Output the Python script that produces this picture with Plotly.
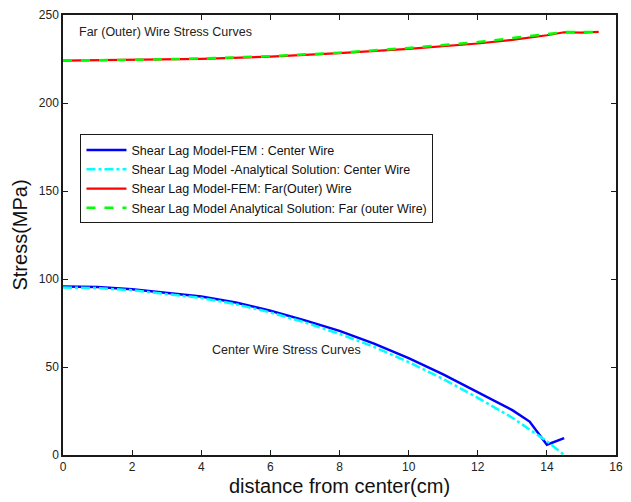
import plotly.graph_objects as go

# Center wire, FEM
x_center_fem = [0, 1, 2, 3, 4, 5, 6, 7, 8, 9, 10, 11, 12, 13, 13.5, 14, 14.5]
y_center_fem = [95.8, 95.4, 94.2, 92.3, 90.0, 86.6, 82.0, 76.5, 70.5, 63.3, 55.0, 45.8, 35.5, 25.5, 19.0, 5.8, 9.6]

# Center wire, analytical
x_center_ana = [0, 1, 2, 3, 4, 5, 6, 7, 8, 9, 10, 11, 12, 13, 14, 14.5]
y_center_ana = [95.2, 94.8, 93.6, 91.6, 89.2, 85.7, 81.0, 75.3, 68.8, 61.4, 52.8, 43.2, 32.5, 21.2, 7.8, 0.0]

# Far (outer) wire, FEM
x_far_fem = [0, 2, 4, 6, 8, 10, 12, 13, 13.5, 14, 14.5, 15, 15.5]
y_far_fem = [224.1, 224.4, 225.1, 226.3, 228.3, 230.8, 233.8, 235.9, 237.0, 238.5, 240.2, 240.0, 240.4]

# Far (outer) wire, analytical
x_far_ana = [0, 2, 4, 6, 8, 10, 12, 13, 14, 14.5, 15, 15.5]
y_far_ana = [224.2, 224.5, 225.3, 226.6, 228.6, 231.3, 234.6, 236.8, 239.0, 240.3, 240.3, 240.4]

x_ticks = [0, 2, 4, 6, 8, 10, 12, 14, 16]
y_ticks = [0, 50, 100, 150, 200, 250]

fig = go.Figure()
fig.add_trace(go.Scatter(x=x_center_fem, y=y_center_fem, mode="lines",
                         line=dict(color="#0000ff", width=2.5),
                         name="Shear Lag Model-FEM : Center Wire"))
fig.add_trace(go.Scatter(x=x_center_ana, y=y_center_ana, mode="lines",
                         line=dict(color="#00ffff", width=2.5, dash="dashdot"),
                         name="Shear Lag Model -Analytical Solution: Center Wire"))
fig.add_trace(go.Scatter(x=x_far_fem, y=y_far_fem, mode="lines",
                         line=dict(color="#ff0000", width=2.2),
                         name="Shear Lag Model-FEM: Far(Outer) Wire"))
fig.add_trace(go.Scatter(x=x_far_ana, y=y_far_ana, mode="lines",
                         line=dict(color="#00ff00", width=2.5, dash="dash"),
                         name="Shear Lag Model Analytical Solution: Far (outer Wire)"))

fig.add_annotation(x=0.4, y=240.4, xref="x", yref="y", text="Far (Outer) Wire Stress Curves",
                   showarrow=False, xanchor="left", yanchor="middle",
                   font=dict(size=12.5, color="#222222"))
fig.add_annotation(x=4.25, y=59.6, xref="x", yref="y", text="Center Wire Stress Curves",
                   showarrow=False, xanchor="left", yanchor="middle",
                   font=dict(size=12.5, color="#222222"))

axis_common = dict(showline=True, linecolor="#1a1a1a", linewidth=1.5, mirror="ticks",
                   ticks="inside", ticklen=5, tickcolor="#1a1a1a", tickwidth=1,
                   showgrid=False, zeroline=False,
                   tickfont=dict(size=12, color="#222222"))

fig.update_layout(
    width=631, height=502,
    margin=dict(l=63, r=8, t=15, b=45),
    paper_bgcolor="white", plot_bgcolor="white",
    font=dict(family="Liberation Sans, Arial, sans-serif", color="#222222"),
    showlegend=True,
    legend=dict(x=0.0316, y=0.7285, xanchor="left", yanchor="top",
                bgcolor="white", bordercolor="#1a1a1a", borderwidth=1,
                itemwidth=40,
                font=dict(size=12.5, color="#111111"), tracegroupgap=0),
    xaxis=dict(range=[0, 16], tickvals=x_ticks,
               title=dict(text="distance from center(cm)", font=dict(size=20, color="#111111"), standoff=6),
               **axis_common),
    yaxis=dict(range=[0, 250], tickvals=y_ticks,
               title=dict(text="Stress(MPa)", font=dict(size=20, color="#111111"), standoff=6),
               **axis_common),
)

fig.write_html("out.html")
